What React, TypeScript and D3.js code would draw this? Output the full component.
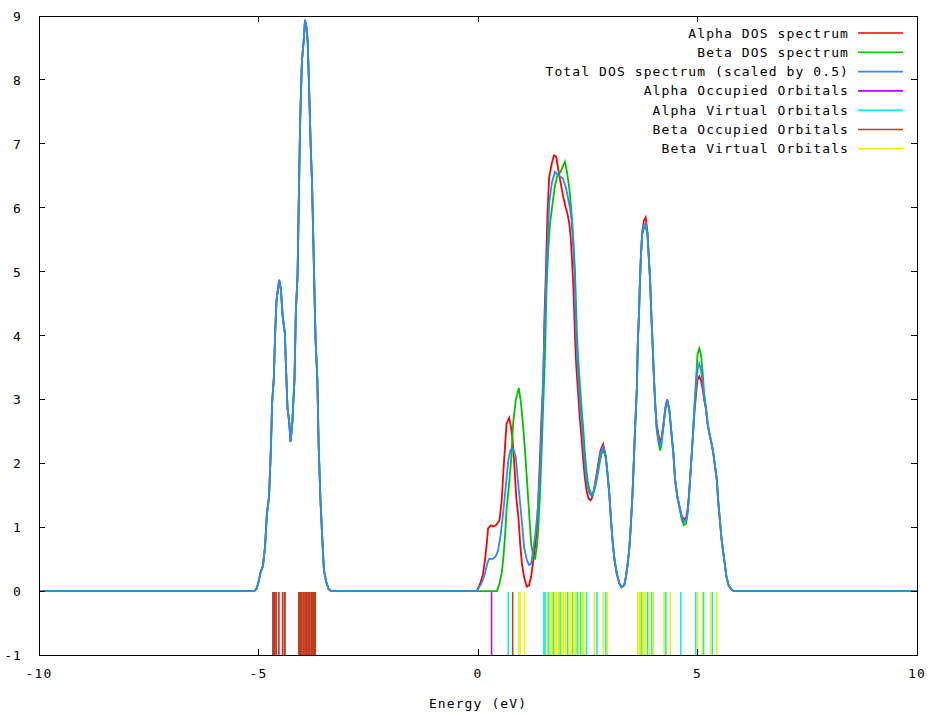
import React from 'react';
import * as d3 from 'd3';

type P = [number, number];

const xTicks = [-10, -5, 0, 5, 10];
const yTicks = [-1, 0, 1, 2, 3, 4, 5, 6, 7, 8, 9];
const xLabel = 'Energy (eV)';

const legendLabels = [
  'Alpha DOS spectrum',
  'Beta DOS spectrum',
  'Total DOS spectrum (scaled by 0.5)',
  'Alpha Occupied Orbitals',
  'Alpha Virtual Orbitals',
  'Beta Occupied Orbitals',
  'Beta Virtual Orbitals',
];
const seriesColors = ['#ff0000', '#00c000', '#2a8aff', '#c000ff', '#00eeee', '#c04000', '#eeee00'];

// Left d-band peak: alpha, beta and total coincide
const dosLeftPeak: P[] = [
  [-5.10, 0], [-5.05, 0.03], [-5.01, 0.11], [-4.95, 0.30], [-4.90, 0.39], [-4.85, 0.70],
  [-4.81, 1.20], [-4.76, 1.48], [-4.72, 2.18], [-4.69, 2.94], [-4.65, 3.34], [-4.62, 4.05],
  [-4.59, 4.55], [-4.53, 4.87], [-4.49, 4.72], [-4.45, 4.30], [-4.40, 4.04], [-4.37, 3.43],
  [-4.34, 2.87], [-4.30, 2.64], [-4.27, 2.34], [-4.23, 2.63], [-4.18, 3.32], [-4.15, 4.35],
  [-4.11, 4.95], [-4.08, 6.21], [-4.05, 7.39], [-4.01, 8.31], [-3.97, 8.62], [-3.94, 8.94],
  [-3.91, 8.83], [-3.88, 8.61], [-3.85, 7.93], [-3.81, 6.95], [-3.78, 6.38], [-3.74, 5.14],
  [-3.70, 3.93], [-3.66, 3.32], [-3.63, 2.28], [-3.59, 1.45], [-3.55, 0.86], [-3.51, 0.33],
  [-3.46, 0.15], [-3.40, 0.03], [-3.34, 0],
];

const totalRight: P[] = [
  [-0.03, 0], [0.08, 0.12], [0.16, 0.28], [0.21, 0.43], [0.26, 0.51], [0.33, 0.50], [0.40, 0.54],
  [0.46, 0.64], [0.52, 0.90], [0.58, 1.27], [0.64, 1.69], [0.69, 2.05], [0.74, 2.21], [0.80, 2.23],
  [0.86, 2.10], [0.90, 1.79], [0.96, 1.37], [1.01, 1.01], [1.05, 0.69], [1.11, 0.49], [1.16, 0.41],
  [1.21, 0.43], [1.26, 0.64], [1.31, 0.91], [1.36, 1.27], [1.40, 1.74], [1.44, 2.36], [1.47, 3.04],
  [1.51, 3.98], [1.55, 4.82], [1.59, 5.49], [1.62, 6.07], [1.68, 6.38], [1.75, 6.56], [1.83, 6.51],
  [1.93, 6.46], [2.00, 6.32], [2.06, 6.12], [2.10, 5.98], [2.13, 5.81], [2.16, 5.49], [2.19, 5.08],
  [2.21, 4.66], [2.23, 4.14], [2.26, 3.62], [2.30, 3.20], [2.34, 2.78], [2.38, 2.47], [2.41, 2.16],
  [2.45, 1.84], [2.49, 1.63], [2.54, 1.53], [2.59, 1.48], [2.64, 1.58], [2.69, 1.74], [2.74, 1.95],
  [2.79, 2.16], [2.85, 2.26], [2.91, 2.10], [2.95, 1.84], [2.99, 1.53], [3.03, 1.11], [3.07, 0.75],
  [3.11, 0.49], [3.16, 0.28], [3.22, 0.12], [3.27, 0.06], [3.33, 0.09], [3.37, 0.22], [3.41, 0.43],
  [3.45, 0.69], [3.48, 1.01], [3.52, 1.53], [3.55, 2.05], [3.58, 2.57], [3.62, 3.20], [3.64, 3.88],
  [3.67, 4.40], [3.69, 4.87], [3.71, 5.23], [3.74, 5.60], [3.78, 5.73], [3.82, 5.75], [3.86, 5.60],
  [3.89, 5.23], [3.92, 4.87], [3.95, 4.29], [3.98, 3.82], [4.01, 3.30], [4.04, 2.88], [4.07, 2.57],
  [4.11, 2.39], [4.15, 2.26], [4.18, 2.36], [4.22, 2.57], [4.27, 2.86], [4.31, 2.99], [4.36, 2.83],
  [4.40, 2.52], [4.45, 2.16], [4.49, 1.74], [4.54, 1.48], [4.59, 1.32], [4.64, 1.16], [4.69, 1.08],
  [4.74, 1.11], [4.78, 1.27], [4.81, 1.53], [4.85, 1.95], [4.89, 2.36], [4.93, 2.83], [4.97, 3.20],
  [5.00, 3.46], [5.04, 3.56], [5.08, 3.46], [5.12, 3.25], [5.15, 3.04], [5.19, 2.88], [5.23, 2.62],
  [5.27, 2.47], [5.32, 2.31], [5.36, 2.16], [5.40, 1.95], [5.44, 1.74], [5.47, 1.42], [5.51, 1.11],
  [5.55, 0.80], [5.59, 0.59], [5.63, 0.38], [5.66, 0.22], [5.71, 0.09], [5.76, 0.04], [5.82, 0],
];

const alphaRight: P[] = [
  [-0.03, 0], [0.05, 0.12], [0.11, 0.25], [0.16, 0.49], [0.20, 0.75], [0.23, 0.98], [0.29, 1.03],
  [0.35, 1.01], [0.41, 1.03], [0.49, 1.11], [0.54, 1.42], [0.58, 1.89], [0.62, 2.31], [0.65, 2.62],
  [0.71, 2.71], [0.75, 2.57], [0.79, 2.36], [0.83, 1.95], [0.87, 1.48], [0.92, 1.16], [0.96, 0.75],
  [1.00, 0.43], [1.05, 0.22], [1.11, 0.07], [1.16, 0.09], [1.21, 0.22], [1.26, 0.49], [1.31, 0.75],
  [1.34, 0.95], [1.37, 1.38], [1.41, 2.05], [1.45, 2.78], [1.49, 3.30], [1.51, 4.19], [1.55, 5.08],
  [1.58, 5.86], [1.62, 6.48], [1.68, 6.69], [1.73, 6.82], [1.78, 6.80], [1.83, 6.59], [1.94, 6.17],
  [2.00, 6.00], [2.04, 5.90], [2.08, 5.75], [2.11, 5.55], [2.14, 5.20], [2.17, 4.80], [2.19, 4.40],
  [2.21, 3.95], [2.24, 3.50], [2.28, 3.10], [2.32, 2.70], [2.36, 2.38], [2.39, 2.10], [2.43, 1.80],
  [2.47, 1.58], [2.52, 1.45], [2.56, 1.42], [2.60, 1.46], [2.64, 1.58], [2.69, 1.78], [2.74, 2.00],
  [2.79, 2.20], [2.85, 2.30], [2.91, 2.12], [2.95, 1.84], [2.99, 1.53], [3.03, 1.11], [3.07, 0.75],
  [3.11, 0.49], [3.16, 0.28], [3.22, 0.12], [3.27, 0.06], [3.33, 0.09], [3.37, 0.22], [3.41, 0.43],
  [3.45, 0.69], [3.48, 1.01], [3.52, 1.53], [3.55, 2.05], [3.58, 2.57], [3.62, 3.20], [3.64, 3.88],
  [3.67, 4.40], [3.69, 4.87], [3.71, 5.23], [3.74, 5.62], [3.78, 5.80], [3.82, 5.85], [3.86, 5.62],
  [3.89, 5.23], [3.92, 4.87], [3.95, 4.29], [3.98, 3.82], [4.01, 3.30], [4.04, 2.90], [4.07, 2.62],
  [4.11, 2.45], [4.15, 2.32], [4.18, 2.40], [4.22, 2.60], [4.27, 2.88], [4.31, 3.00], [4.36, 2.83],
  [4.40, 2.52], [4.45, 2.16], [4.49, 1.74], [4.54, 1.48], [4.59, 1.32], [4.64, 1.18], [4.69, 1.12],
  [4.74, 1.15], [4.78, 1.30], [4.81, 1.53], [4.85, 1.95], [4.89, 2.36], [4.93, 2.80], [4.97, 3.10],
  [5.00, 3.30], [5.04, 3.36], [5.08, 3.30], [5.12, 3.15], [5.15, 3.00], [5.19, 2.86], [5.23, 2.62],
  [5.27, 2.47], [5.32, 2.31], [5.36, 2.16], [5.40, 1.95], [5.44, 1.74], [5.47, 1.42], [5.51, 1.11],
  [5.55, 0.80], [5.59, 0.59], [5.63, 0.38], [5.66, 0.22], [5.71, 0.09], [5.76, 0.04], [5.82, 0],
];

const betaRight: P[] = [
  [0.43, 0], [0.49, 0.12], [0.54, 0.28], [0.58, 0.54], [0.62, 0.90], [0.65, 1.27], [0.71, 1.69],
  [0.76, 2.10], [0.80, 2.62], [0.86, 2.99], [0.93, 3.18], [0.98, 2.94], [1.03, 2.57], [1.08, 2.10],
  [1.12, 1.69], [1.17, 1.16], [1.21, 0.75], [1.26, 0.54], [1.30, 0.51], [1.34, 0.69], [1.37, 0.95],
  [1.41, 1.48], [1.45, 2.21], [1.49, 2.99], [1.53, 3.77], [1.56, 4.71], [1.60, 5.34], [1.64, 5.75],
  [1.70, 6.07], [1.75, 6.33], [1.81, 6.51], [1.88, 6.56], [1.98, 6.72], [2.03, 6.55], [2.08, 6.30],
  [2.12, 6.00], [2.15, 5.75], [2.18, 5.40], [2.21, 5.00], [2.23, 4.55], [2.25, 4.10], [2.28, 3.65],
  [2.32, 3.25], [2.36, 2.85], [2.40, 2.52], [2.43, 2.20], [2.47, 1.88], [2.51, 1.66], [2.56, 1.55],
  [2.61, 1.50], [2.66, 1.60], [2.71, 1.76], [2.76, 1.96], [2.81, 2.14], [2.86, 2.22], [2.91, 2.08],
  [2.95, 1.84], [2.99, 1.53], [3.03, 1.11], [3.07, 0.75], [3.11, 0.49], [3.16, 0.28], [3.22, 0.12],
  [3.27, 0.06], [3.33, 0.09], [3.37, 0.22], [3.41, 0.43], [3.45, 0.69], [3.48, 1.01], [3.52, 1.53],
  [3.55, 2.05], [3.58, 2.57], [3.62, 3.20], [3.64, 3.88], [3.67, 4.40], [3.69, 4.87], [3.71, 5.23],
  [3.74, 5.58], [3.78, 5.68], [3.82, 5.70], [3.86, 5.58], [3.89, 5.23], [3.92, 4.87], [3.95, 4.29],
  [3.98, 3.82], [4.01, 3.30], [4.04, 2.86], [4.07, 2.52], [4.11, 2.33], [4.15, 2.20], [4.18, 2.30],
  [4.22, 2.55], [4.27, 2.85], [4.31, 2.98], [4.36, 2.83], [4.40, 2.52], [4.45, 2.16], [4.49, 1.74],
  [4.54, 1.48], [4.59, 1.30], [4.64, 1.12], [4.69, 1.03], [4.74, 1.06], [4.78, 1.24], [4.81, 1.53],
  [4.85, 1.95], [4.89, 2.40], [4.93, 2.90], [4.97, 3.35], [5.00, 3.70], [5.04, 3.80], [5.08, 3.70],
  [5.12, 3.40], [5.15, 3.10], [5.19, 2.90], [5.23, 2.62], [5.27, 2.47], [5.32, 2.31], [5.36, 2.16],
  [5.40, 1.95], [5.44, 1.74], [5.47, 1.42], [5.51, 1.11], [5.55, 0.80], [5.59, 0.59], [5.63, 0.38],
  [5.66, 0.22], [5.71, 0.09], [5.76, 0.04], [5.82, 0],
];

// Orbital energies (eV)
const betaOccupied = [
  -4.67, -4.64, -4.60, -4.54, -4.45, -4.40, -4.08, -4.05, -4.02, -3.98, -3.94, -3.91, -3.87,
  -3.84, -3.80, -3.77, -3.74, -3.71, 0.79,
];
const alphaOccupied = [
  -4.67, -4.64, -4.60, -4.54, -4.45, -4.40, -4.08, -4.05, -4.02, -3.98, -3.94, -3.91, -3.87,
  -3.84, -3.80, -3.77, -3.74, -3.71, 0.31,
];
const alphaVirtual = [
  0.69, 1.50, 1.53, 1.61, 1.72, 1.87, 2.04, 2.16, 2.26, 2.34, 2.47, 2.71, 2.91, 3.73, 3.86, 3.96,
  4.28, 4.62, 4.96, 5.14, 5.34,
];
const betaVirtual = [
  0.93, 0.96, 1.06, 1.58, 1.66, 1.69, 1.75, 1.79, 1.83, 1.91, 1.95, 1.99, 2.07, 2.12, 2.18, 2.22,
  2.30, 2.38, 2.41, 2.65, 2.85, 2.95, 3.64, 3.67, 3.70, 3.76, 3.80, 3.90, 3.99, 4.24, 4.38, 5.00,
  5.11, 5.30, 5.44,
];

const FONT = '"DejaVu Sans Mono", monospace';

export default function App() {
  const W = 945;
  const H = 718;
  const x = d3.scaleLinear().domain([-10, 10]).range([39, 917]);
  const y = d3.scaleLinear().domain([-1, 9]).range([655, 16]);
  const line = d3.line<P>().x((d) => x(d[0])).y((d) => y(d[1]));

  const alphaDos: P[] = [[-10, 0], ...dosLeftPeak, ...alphaRight, [10, 0]];
  const betaDos: P[] = [[-10, 0], ...dosLeftPeak, ...betaRight, [10, 0]];
  const totalDos: P[] = [[-10, 0], ...dosLeftPeak, ...totalRight, [10, 0]];
  const curves = [alphaDos, betaDos, totalDos];
  const orbitals = [alphaOccupied, alphaVirtual, betaOccupied, betaVirtual];

  const [x0, x1] = x.range();
  const [yb, yt] = y.range();
  const tick = 6;
  const textStyle = { fontFamily: FONT, fontSize: 13, letterSpacing: 1.1 } as const;

  return (
    <svg
      width={W}
      height={H}
      style={{ position: 'absolute', left: 0, top: 0, background: '#fff', display: 'block' }}
    >
      <rect x={0} y={0} width={W} height={H} fill="#fff" />
      {curves.map((c, i) => (
        <path key={'c' + i} d={line(c) || ''} fill="none" stroke={seriesColors[i]} strokeWidth={1.8} />
      ))}
      {orbitals.map((arr, i) => (
        <g key={'o' + i}>
          {arr.map((e, j) => (
            <line
              key={j}
              x1={x(e)}
              x2={x(e)}
              y1={y(0) + 1}
              y2={y(-1)}
              stroke={seriesColors[i + 3]}
              strokeWidth={1.5}
            />
          ))}
        </g>
      ))}
      <rect x={x0} y={yt} width={x1 - x0} height={yb - yt} fill="none" stroke="#000" strokeWidth={1} shapeRendering="crispEdges" />
      {yTicks.map((t) => (
        <g key={'yt' + t}>
          <line x1={x0} x2={x0 + tick} y1={y(t)} y2={y(t)} stroke="#000" shapeRendering="crispEdges" />
          <line x1={x1} x2={x1 - tick} y1={y(t)} y2={y(t)} stroke="#000" shapeRendering="crispEdges" />
          <text x={22} y={y(t) + 5} textAnchor="end" style={textStyle}>
            {String(t)}
          </text>
        </g>
      ))}
      {xTicks.map((t) => (
        <g key={'xt' + t}>
          <line x1={x(t)} x2={x(t)} y1={yb} y2={yb - tick} stroke="#000" shapeRendering="crispEdges" />
          <line x1={x(t)} x2={x(t)} y1={yt} y2={yt + tick} stroke="#000" shapeRendering="crispEdges" />
          <text x={x(t)} y={678} textAnchor="middle" style={textStyle}>
            {String(t)}
          </text>
        </g>
      ))}
      <text x={x(0)} y={708} textAnchor="middle" style={textStyle}>
        {xLabel}
      </text>
      {legendLabels.map((lab, i) => {
        const ly = 33 + i * 19.3;
        return (
          <g key={'lg' + i}>
            <text x={849} y={ly + 4.5} textAnchor="end" style={textStyle}>
              {lab}
            </text>
            <line x1={858} x2={903} y1={ly} y2={ly} stroke={seriesColors[i]} strokeWidth={1.6} />
          </g>
        );
      })}
    </svg>
  );
}
